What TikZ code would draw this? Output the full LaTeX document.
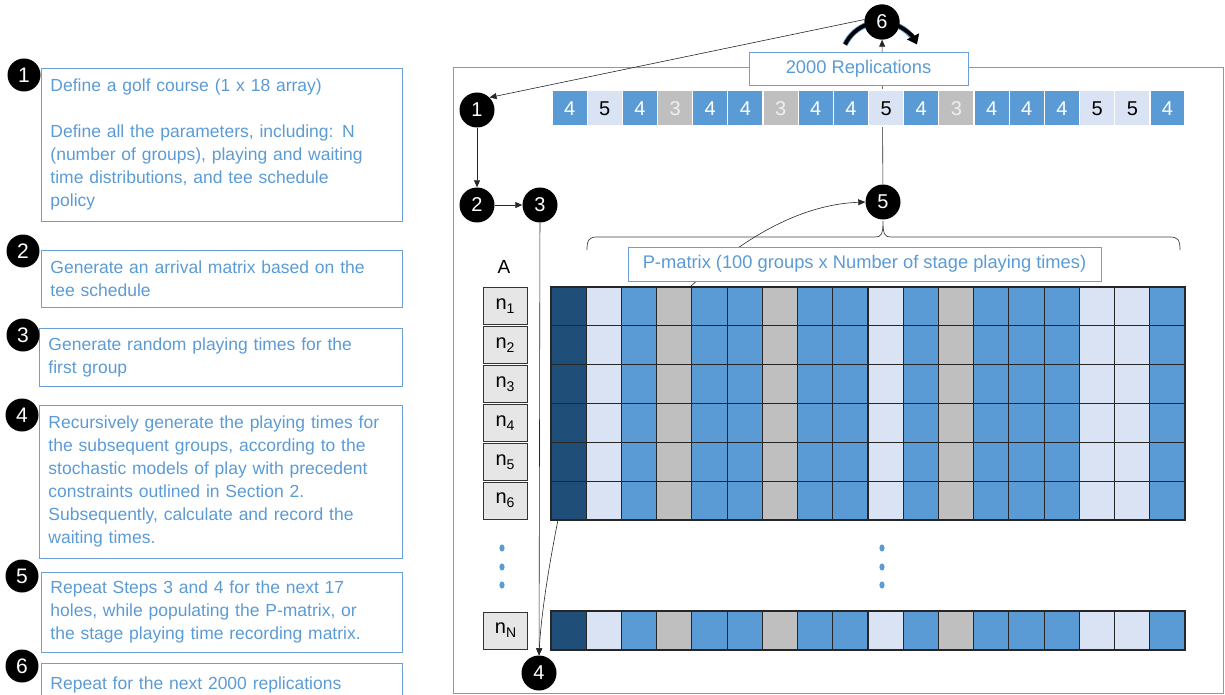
\documentclass[tikz,border=0pt]{standalone}
\usepackage{fontspec}
\setmainfont{Liberation Sans}
\usetikzlibrary{arrows.meta,calc}
\definecolor{boxblue}{HTML}{6A9FD8}
\definecolor{txtblue}{HTML}{5B9BD5}
\definecolor{cblue}{HTML}{5B9BD5}
\definecolor{clight}{HTML}{DAE3F3}
\definecolor{cgray}{HTML}{BFBFBF}
\definecolor{cdark}{HTML}{1F4E79}
\definecolor{ngray}{HTML}{E7E6E6}
\newcommand{\subnum}[1]{\raisebox{-4pt}{\fontsize{14}{14}\selectfont #1}}
\begin{document}
\begin{tikzpicture}[x=1pt,y=-1pt,
  stepbox/.style={draw=boxblue, line width=0.9pt, text=txtblue, align=left, anchor=north west,
    inner xsep=9pt, inner ysep=0pt, font=\fontsize{17.5}{23}\selectfont},
  lnum/.style={circle, fill=black, text=white, minimum size=33pt, inner sep=0pt, font=\fontsize{21}{21}\selectfont},
  rnum/.style={circle, fill=black, text=white, minimum size=35pt, inner sep=0pt, font=\fontsize{20}{20}\selectfont},
  conn/.style={draw=black!85, line width=0.6pt, -{Triangle[length=7pt,width=6pt]}},
  lbl/.style={draw=boxblue, fill=white, line width=0.9pt, text=txtblue, font=\fontsize{18.3}{18.3}\selectfont, inner sep=0pt},
  ncell/.style={draw=black!80, fill=ngray, line width=0.9pt, minimum width=44pt, minimum height=37pt, inner sep=0pt, font=\fontsize{20}{20}\selectfont},
  mcell/.style={draw=black!85, line width=1.1pt},
  tcell/.style={draw=white, line width=1.2pt},
  vdot/.style={fill=txtblue, draw=none}
]
\useasboundingbox (0,0) rectangle (1225,695);

% ---------- left step boxes ----------
\node[stepbox, minimum width=361pt, minimum height=153pt, text width=343pt] (s1) at (41,68)
 {Define a golf course (1 x 18 array)\\[23pt]Define all the parameters, including: N\\(number of groups), playing and waiting\\time distributions, and tee schedule\\policy};
\node[stepbox, minimum width=361pt, minimum height=57pt, text width=343pt] (s2) at (41,250)
 {Generate an arrival matrix based on the\\tee schedule};
\node[stepbox, minimum width=363pt, minimum height=58pt, text width=345pt] (s3) at (39,328)
 {Generate random playing times for the\\first group};
\node[stepbox, minimum width=363pt, minimum height=153pt, text width=345pt] (s4) at (39,405)
 {Recursively generate the playing times for\\the subsequent groups, according to the\\stochastic models of play with precedent\\constraints outlined in Section 2.\\Subsequently, calculate and record the\\waiting times.};
\node[stepbox, minimum width=361pt, minimum height=80pt, text width=343pt] (s5) at (41,572)
 {Repeat Steps 3 and 4 for the next 17\\holes, while populating the P-matrix, or\\the stage playing time recording matrix.};
\node[stepbox, minimum width=361pt, minimum height=40pt, text width=343pt, anchor=north west] (s6) at (41,663)
 {\raisebox{0pt}[12pt][0pt]{Repeat for the next 2000 replications}\\[10pt]};

\node[lnum] (l1) at (24,75) {1};
\node[lnum] (l2) at (23,251) {2};
\node[lnum] (l3) at (23,335) {3};
\node[lnum] (l4) at (22,415) {4};
\node[lnum] (l5) at (22,576) {5};
\node[lnum] (l6) at (22,666) {6};

% ---------- right frame ----------
\draw[draw=boxblue, line width=1pt] (453,68) rectangle (1223,693);

% ---------- nodes on the right ----------
\node[rnum] (r1) at (477,110) {1};
\node[rnum] (r2) at (477,205) {2};
\node[rnum] (r3) at (540,205) {3};
\node[rnum] (r5) at (883,202) {5};
\node[rnum] (r4) at (539,673) {4};
\node[rnum] (r6) at (882,22) {6};

% connectors behind labels
\draw[conn] (r5) -- (r6);
\coordinate (pm) at (690,287);
\draw[conn] (pm) .. controls (730,250) and (790,205) .. (r5.west);

% ---------- top row (golf course) ----------
\foreach \v [count=\i] in {4,5,4,3,4,4,3,4,4,5,4,3,4,4,4,5,5,4}{
  \pgfmathsetmacro{\xa}{552+(\i-1)*35.17}
  \pgfmathsetmacro{\xb}{552+\i*35.17}
  \ifnum\v=4 \def\fc{cblue}\def\tc{white}\fi
  \ifnum\v=5 \def\fc{clight}\def\tc{black}\fi
  \ifnum\v=3 \def\fc{cgray}\def\tc{white!88!gray}\fi
  \draw[tcell, fill=\fc] (\xa,90) rectangle (\xb,126);
  \node[text=\tc, font=\fontsize{20}{20}\selectfont, inner sep=0pt] (t\i) at ({(\xa+\xb)/2},109) {\v};
}

% ---------- 2000 replications label ----------
\node[lbl, minimum width=219pt, minimum height=33pt] (rep) at (858.5,68.5) {2000 Replications};

% ---------- circular arrow around 6 ----------
\draw[line width=5.5pt, draw=cblue] (881,62) ++(206:40) arc[start angle=206, end angle=326, radius=40];
\draw[line width=3.8pt, black, -{Triangle[length=9pt,width=13pt]}] (881,62) ++(206:40) arc[start angle=206, end angle=334, radius=40];
\node[rnum] at (882,22) {6};

\draw[conn] (r6.172) -- (r1.north east);
\draw[conn] (r1) -- (r2);
\draw[conn] (r2) -- (r3);

% ---------- brace ----------
\draw[black!75, line width=0.7pt] (587,250) .. controls (587,240) and (589,237) .. (597,237) -- (875,237)
  .. controls (881,237) and (883,235) .. (883,221)
  .. controls (883,235) and (885,237) .. (891,237) -- (1170,237)
  .. controls (1178,237) and (1180,240) .. (1180,250);

% ---------- P-matrix label ----------
\node[lbl, minimum width=473pt, minimum height=34pt] (plab) at (864.5,264) {P-matrix (100 groups x Number of stage playing times)};

\node[font=\fontsize{19}{19}\selectfont, inner sep=0pt] (A) at (504,267) {A};

% ---------- matrix ----------
\def\colors{{"cdark","clight","cblue","cgray","cblue","cblue","cgray","cblue","cblue","clight","cblue","cgray","cblue","cblue","cblue","clight","clight","cblue"}}
\foreach \r in {0,...,5}{
  \foreach \c in {0,...,17}{
    \pgfmathsetmacro{\xa}{551+\c*35.22}
    \pgfmathsetmacro{\ya}{287+\r*38.83}
    \pgfmathparse{\colors[\c]}\edef\fc{\pgfmathresult}
    \draw[mcell, fill=\fc] (\xa,\ya) rectangle ++(35.22,38.83);
  }
}
\foreach \c in {0,...,17}{
  \pgfmathsetmacro{\xa}{551+\c*35.22}
  \pgfmathparse{\colors[\c]}\edef\fc{\pgfmathresult}
  \draw[mcell, fill=\fc] (\xa,611) rectangle ++(35.22,39);
}

% A column
\foreach \r/\s in {0/1,1/2,2/3,3/4,4/5,5/6}{
  \node[ncell] (a\s) at (505,{287+\r*38.83+19.4}) {n\subnum{\s}};
}
\node[ncell] (aN) at (505.5,630.5) {n\subnum{N}};

% dots
\foreach \y in {548,567,585}{
  \fill[vdot] (502,\y) ellipse (2.6pt and 3.6pt);
  \fill[vdot] (882,\y) ellipse (2.6pt and 3.6pt);
}

% connectors to 4
\draw[conn] (r3) -- (r4);
\coordinate (m6) at (558,520);
\draw[conn] (m6) .. controls (549,565) and (541,615) .. (r4.north);

\end{tikzpicture}
\end{document}
